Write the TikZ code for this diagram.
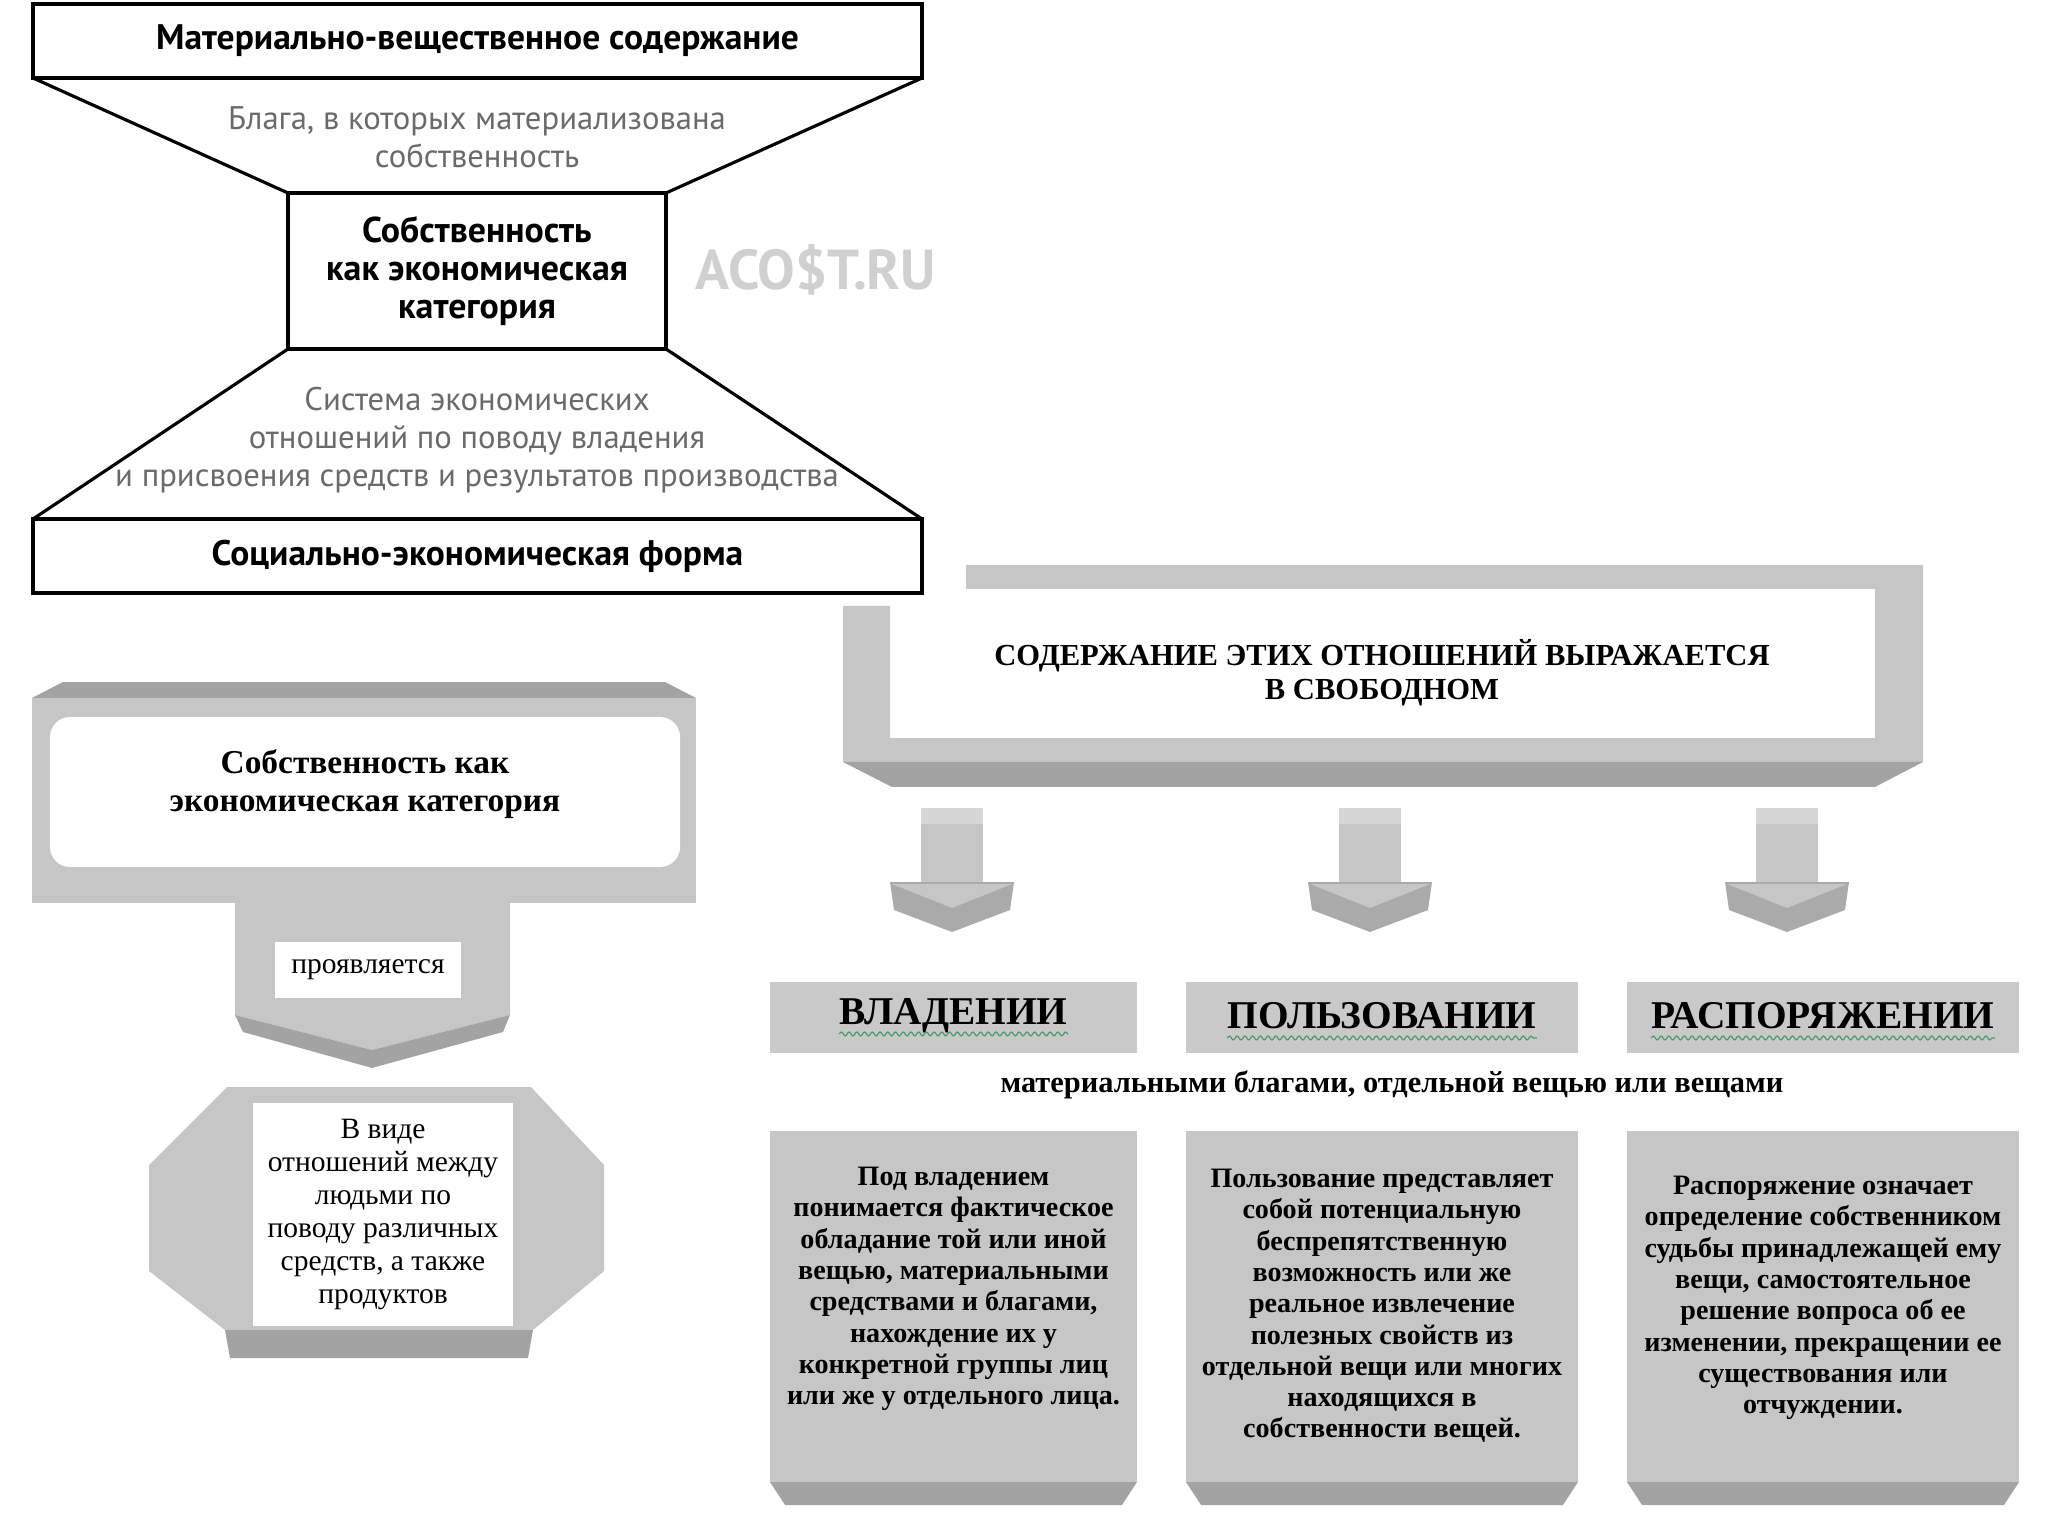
\documentclass[tikz,border=0pt]{standalone}
\usepackage{fontspec}
\setmainfont{Liberation Serif}
\newfontfamily\hgsans{PT Sans}
\usepackage{tikz}
\usetikzlibrary{positioning,decorations.pathmorphing}
\definecolor{panel}{HTML}{C6C6C6}
\definecolor{bevel}{HTML}{A3A3A3}
\definecolor{rim}{HTML}{D6D6D6}
\definecolor{hdfill}{HTML}{C9C9C9}
\definecolor{softink}{HTML}{6A6A6A}
\definecolor{wmark}{HTML}{D0D0D0}
\definecolor{spell}{HTML}{4E9A6A}
\tikzset{
  hgbar/.style ={draw=black, line width=0.9pt, outer sep=0pt, inner sep=0pt, minimum width=8.89cm, minimum height=0.74cm, font=\hgsans\bfseries\fontsize{10.1}{11}\selectfont},
  hgcore/.style={draw=black, line width=0.9pt, outer sep=0pt, inner sep=0pt, minimum width=3.78cm, minimum height=1.56cm, align=center, font=\hgsans\bfseries\fontsize{10.2}{10.8}\selectfont},
  hgnote/.style={align=center, text=softink, inner sep=0pt, font=\hgsans\fontsize{9.3}{10.8}\selectfont},
  card/.style  ={fill=white, inner sep=0pt, outer sep=0pt, align=center},
  headbox/.style={fill=hdfill, minimum height=0.71cm, inner sep=0pt, outer sep=0pt},
  headtxt/.style={inner sep=0pt, font=\bfseries\fontsize{11.2}{13}\selectfont},
  descbox/.style={fill=panel, minimum height=3.51cm, inner sep=0pt, outer sep=0pt},
  desctxt/.style={align=center, inner sep=0pt, font=\bfseries\fontsize{8}{8.9}\selectfont},
  spellmark/.style={spell, line width=0.35pt, decorate, decoration={snake, segment length=2.2pt, amplitude=0.55pt}},
  blockdown/.pic={
    \fill[panel] (-0.31,8.08) rectangle (0.31,8.86);
    \fill[rim] (-0.31,8.08) rectangle (0.31,8.24);
    \fill[bevel!80!panel] (-0.62,8.82) -- (0.62,8.82) -- (0.58,9.10) -- (0,9.32) -- (-0.58,9.10) -- cycle;
    \fill[panel] (-0.60,8.84) -- (0.60,8.84) -- (0,9.08) -- cycle;
  },
}

\begin{document}
\begin{tikzpicture}[y=-1cm]
  \useasboundingbox (0,0) rectangle (20.48,15.36);

  % hourglass
  \node[hgbar]  (matter) at (4.775,0.41) {Материально-вещественное содержание};
  \node[hgcore] (core)   at (4.77,2.71)  {Собственность\\как экономическая\\категория};
  \node[hgbar]  (social) at (4.775,5.56) {Социально-экономическая форма};
  \draw[line width=0.9pt] (matter.south west) -- (core.north west)
                          (matter.south east) -- (core.north east)
                          (core.south west) -- (social.north west)
                          (core.south east) -- (social.north east);
  \node[hgnote] (goods)  at (4.77,1.375) {Блага, в которых материализована\\собственность};
  \node[hgnote] (system) at (4.77,4.40)  {Система экономических\\отношений по поводу владения\\и присвоения средств и результатов производства};
  \node[text=wmark, font=\hgsans\bfseries\fontsize{16}{18}\selectfont] (stamp) at (8.16,2.70) {ACO\$T.RU};

  % left block
  \fill[panel] (0.32,6.98) rectangle (6.96,9.03);
  \fill[bevel] (0.32,6.98) -- (0.63,6.82) -- (6.65,6.82) -- (6.96,6.98) -- cycle;
  \node[card, rounded corners=0.2cm, minimum width=6.30cm, minimum height=1.50cm] (category) at (3.65,7.92) {};
  \node[align=center, font=\bfseries\fontsize{9.5}{11}\selectfont] (cattext) at (3.65,7.84)
        {Собственность как\\экономическая категория};
  \fill[panel] (2.35,9.03) -- (5.10,9.03) -- (5.10,10.15) -- (3.72,10.50) -- (2.35,10.15) -- cycle;
  \fill[bevel] (2.35,10.15) -- (3.72,10.50) -- (5.10,10.15) -- (5.03,10.32) -- (3.72,10.68) -- (2.43,10.32) -- cycle;
  \node[card, minimum width=1.86cm, minimum height=0.56cm, font=\fontsize{8.4}{9}\selectfont] (shows) at (3.68,9.70) {проявляется};
  \fill[panel] (2.27,10.87) -- (5.31,10.87) -- (6.04,11.65) -- (6.04,12.71) -- (5.33,13.30)
               -- (2.25,13.30) -- (1.49,12.71) -- (1.49,11.65) -- cycle;
  \fill[bevel] (2.25,13.30) -- (5.33,13.30) -- (5.28,13.58) -- (2.30,13.58) -- cycle;
  \node[card, minimum width=2.60cm, minimum height=2.23cm, font=\fontsize{8.4}{9.4}\selectfont] (forms) at (3.83,12.145)
        {В виде\\отношений между\\людьми по\\поводу различных\\средств, а также\\продуктов};

  % right block
  \fill[panel] (9.66,5.65) -- (19.23,5.65) -- (19.23,7.62) -- (8.43,7.62) -- (8.43,6.06) -- (8.90,6.06)
               -- (8.90,7.38) -- (18.75,7.38) -- (18.75,5.89) -- (9.66,5.89) -- cycle;
  \fill[bevel] (8.43,7.62) -- (19.23,7.62) -- (18.75,7.87) -- (8.92,7.87) -- cycle;
  \node[align=center, font=\bfseries\fontsize{8.7}{9.7}\selectfont] (content) at (13.82,6.725)
        {СОДЕРЖАНИЕ ЭТИХ ОТНОШЕНИЙ ВЫРАЖАЕТСЯ\\В СВОБОДНОМ};
  \pic at (9.52,0)  {blockdown};
  \pic at (13.70,0) {blockdown};
  \pic at (17.87,0) {blockdown};

  \node[headbox, minimum width=3.67cm] (own)  at (9.535,10.175) {};
  \node[headbox, minimum width=3.92cm] (use)  at (13.82,10.175) {};
  \node[headbox, minimum width=3.92cm] (disp) at (18.23,10.175) {};
  \node[headtxt] (ownt)  at (9.535,10.16) {ВЛАДЕНИИ};
  \node[headtxt] (uset)  at (13.82,10.16) {ПОЛЬЗОВАНИИ};
  \node[headtxt] (dispt) at (18.23,10.16) {РАСПОРЯЖЕНИИ};
  \draw[spellmark] ([yshift=-2.6pt]ownt.base west) -- ([yshift=-2.6pt]ownt.base east);
  \draw[spellmark] ([yshift=-2.6pt]uset.base west) -- ([yshift=-2.6pt]uset.base east);
  \draw[spellmark] ([yshift=-2.6pt]dispt.base west) -- ([yshift=-2.6pt]dispt.base east);
  \node[font=\bfseries\fontsize{8.65}{10}\selectfont] (goodsline) at (13.92,10.85) {материальными благами, отдельной вещью или вещами};

  \node[descbox, minimum width=3.67cm] (ownbox)  at (9.535,13.065) {};
  \node[descbox, minimum width=3.92cm] (usebox)  at (13.82,13.065) {};
  \node[descbox, minimum width=3.92cm] (dispbox) at (18.23,13.065) {};
  \fill[bevel] (ownbox.south west) -- (ownbox.south east) -- ([shift={(-0.15,0.23)}]ownbox.south east) -- ([shift={(0.15,0.23)}]ownbox.south west) -- cycle;
  \fill[bevel] (usebox.south west) -- (usebox.south east) -- ([shift={(-0.15,0.23)}]usebox.south east) -- ([shift={(0.15,0.23)}]usebox.south west) -- cycle;
  \fill[bevel] (dispbox.south west) -- (dispbox.south east) -- ([shift={(-0.15,0.23)}]dispbox.south east) -- ([shift={(0.15,0.23)}]dispbox.south west) -- cycle;
  \node[desctxt] (ownd) at (9.535,12.89)
        {Под владением\\понимается фактическое\\обладание той или иной\\вещью, материальными\\средствами и благами,\\нахождение их у\\конкретной группы лиц\\или же у отдельного лица.};
  \node[desctxt] (used) at (13.82,13.06)
        {Пользование представляет\\собой потенциальную\\беспрепятственную\\возможность или же\\реальное извлечение\\полезных свойств из\\отдельной вещи или многих\\находящихся в\\собственности вещей.};
  \node[desctxt] (dispd) at (18.23,12.98)
        {Распоряжение означает\\определение собственником\\судьбы принадлежащей ему\\вещи, самостоятельное\\решение вопроса об ее\\изменении, прекращении ее\\существования или\\отчуждении.};
\end{tikzpicture}
\end{document}
